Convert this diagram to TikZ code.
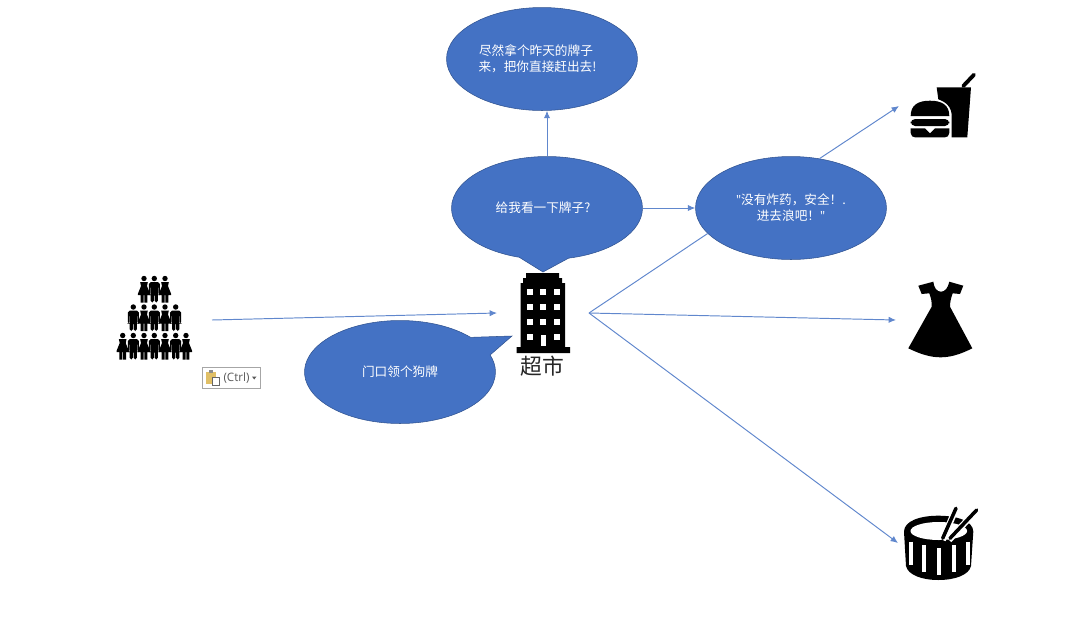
\documentclass[tikz,border=0pt]{standalone}
\usepackage{fontspec}
\setmainfont{Noto Sans CJK SC}
\newfontfamily\btnfont{Open Sans}
\usetikzlibrary{arrows.meta,shapes.geometric,shapes.callouts}
\definecolor{bubblefill}{HTML}{4472C4}
\definecolor{bubbleline}{HTML}{2F528F}
\newcommand{\bubbleline}[2]{\makebox[0pt]{#2\hspace*{#1}}}
\tikzset{
	>={Latex[length=4.2pt,width=3.6pt]},
	bubble/.style={ellipse, draw=bubbleline, line width=.3pt, fill=bubblefill, text=white,
		minimum width=3.82cm, minimum height=2.06cm, inner sep=0pt, align=center,
		font=\fontsize{7.2pt}{9.2pt}\selectfont},
	talkbubble/.style={bubble, shape=ellipse callout},
	link/.style={draw=bubblefill!85!white, line width=.55pt, ->},
	linknoarrow/.style={draw=bubblefill!85!white, line width=.55pt},
	solid black/.style={fill=black, draw=none},
	manfig/.pic={
		\fill (0,2.5) circle (2.7);
		\fill[rounded corners=1pt] (-5.5,6.2) -- (5.5,6.2) -- (5.5,19) -- (4.1,19) -- (4.1,10) -- (3.6,10) -- (3.6,26.5) -- (.4,26.5)
			-- (.4,18) -- (-.4,18) -- (-.4,26.5) -- (-3.6,26.5) -- (-3.6,10) -- (-4.1,10) -- (-4.1,19) -- (-5.5,19) -- cycle;
	},
	womanfig/.pic={
		\fill (0,2.5) circle (2.7);
		\fill (-3.8,6.2) -- (3.8,6.2) -- (3,10) -- (6.2,18) -- (6.2,19) -- (3.4,19) -- (3.4,26.5) -- (.4,26.5) -- (.4,19)
			-- (-.4,19) -- (-.4,26.5) -- (-3.4,26.5) -- (-3.4,19) -- (-6.2,19) -- (-6.2,18) -- (-3,10) -- cycle;
	},
}
\begin{document}
\begin{tikzpicture}[x=.02cm, y=-.02cm]
	\useasboundingbox (0,0) rectangle (1080,633);
	% crowd
	\foreach \x in {122.7,144,165,186} \pic at (\x,333) {womanfig};
	\foreach \x in {133.3,154.3,175.7} \pic at (\x,333) {manfig};
	\foreach \x in {144,165} \pic at (\x,304.5) {womanfig};
	\foreach \x in {133.3,154.3,175.7} \pic at (\x,304.5) {manfig};
	\foreach \x in {144,165} \pic at (\x,276) {womanfig};
	\pic at (154.3,276) {manfig};
	% paste button
	\node[draw=black!35, fill=white, line width=.4pt, minimum width=1.16cm, minimum height=.42cm, inner sep=0pt] (pastebox) at (231,377.5) {};
	\node[text=black!65, inner sep=0pt, font=\btnfont\fontsize{6.6pt}{7pt}\selectfont] (pastetext) at (236.5,378) {(Ctrl)};
	\fill[orange!55!yellow!80!black!60] (206,372) rectangle (216,384);
	\fill[black!45] (209,370) rectangle (213,373);
	\draw[black!60, fill=white, line width=.4pt] (212,377) rectangle (219.5,385);
	\fill[black!65] (252,376.5) -- (256.5,376.5) -- (254.2,379.5) -- cycle;
	% shop
	\fill[solid black] (526,273) -- (559,273) -- (559,278) -- (562,278) -- (562,283) -- (565,283) -- (565,347) -- (570,347) -- (570,353)
		-- (516.7,353) -- (516.7,347) -- (520.7,347) -- (520.7,283) -- (523,283) -- (523,278) -- (526,278) -- cycle;
	\foreach \y in {292.3,307.3,322.3}
		\foreach \x in {530,543.3,556.7}
			\fill[white] (\x-3,\y-3) rectangle (\x+3,\y+3);
	\foreach \x in {530,556.7}
		\fill[white] (\x-3,334.3) rectangle (\x+3,340.3);
	\fill[white] (540.5,335) rectangle (546,346);
	\node[inner sep=0pt, text=black!85, font=\fontsize{12.4pt}{14pt}\selectfont] (shoplabel) at (542,366) {超市};
	% burger and drink
	\fill (936.7,87.3) -- (971,87.3) -- (967.3,137.3) -- (951.7,137.3) -- (951.7,116)
		.. controls (951.7,107) and (946,102) .. (938.3,99.3) -- cycle;
	\draw[line width=2.2pt, line cap=round] (963.3,86) -- (974,74.7);
	\fill (910.7,116) .. controls (910.7,105) and (918,100.7) .. (930,100.7)
		.. controls (942,100.7) and (949.3,105) .. (949.3,116) -- cycle;
	\fill[rounded corners=2.5pt] (910.7,119) rectangle (949.3,126);
	\fill (910.7,128.3) -- (925,128.3) -- (930,133.3) -- (935,128.3) -- (949.3,128.3) -- (949.3,133)
		.. controls (949.3,136) and (947,137.3) .. (945,137.3) -- (915,137.3)
		.. controls (913,137.3) and (910.7,136) .. (910.7,133) -- cycle;
	% dress
	\fill (933.3,281.7) -- (918.3,285.7) -- (921.7,294) -- (929.3,293.3) .. controls (931,298) and (932,302) .. (931.7,306.7)
		-- (908.3,348.3) .. controls (920,354) and (930,357.3) .. (940.7,357.3) .. controls (951,357.3) and (961,354) .. (972.3,348.3)
		-- (950,306.7) .. controls (950,302) and (951,298) .. (952.7,293.3) -- (960,294) -- (963.3,285.7) -- (949.3,281.7)
		.. controls (948,288) and (945,291.7) .. (941,291.7) .. controls (937,291.7) and (934,288) .. (933.3,281.7) -- cycle;
	% drum
	\fill (904,531.7) .. controls (904,521) and (920,515.7) .. (938.3,515.7) .. controls (957,515.7) and (973.3,521) .. (973.3,531.7)
		-- (971,566) .. controls (969,575) and (955,580) .. (938.3,580) .. controls (922,580) and (908,575) .. (906,566) -- cycle;
	\fill[white] (938.8,531) ellipse (28.3 and 9);
	\foreach \x/\ya/\yb in {911/541.7/565,924/545/572,939/548/575,954/545/572,968/541.7/565}
		\draw[white, line width=2pt] (\x,\ya) -- (\x,\yb);
	\draw[white, line width=3.6pt] (942.7,540) -- (956,508.3);
	\draw[white, line width=3.6pt] (949,540) -- (976.7,510);
	\draw[line width=2pt, line cap=round] (942.7,538.3) -- (956,508.3);
	\draw[line width=2pt, line cap=round] (950,538.3) -- (976.7,510);
	% speech bubbles
	\node[bubble] (warnbubble) at (542,59) {\bubbleline{.24cm}{尽然拿个昨天的牌子}\\\bubbleline{.18cm}{来，把你直接赶出去!}};
	\node[talkbubble, callout absolute pointer={(543,272)}, callout pointer arc=30] (askbubble) at (547,208) {\bubbleline{.16cm}{给我看一下牌子?}};
	\node[bubble] (safebubble) at (791,208) {{\btnfont"}没有炸药，安全！.\\进去浪吧！{\btnfont"}};
	\node[talkbubble, callout absolute pointer={(512,336)}, callout pointer arc=23] (tagbubble) at (400,372) {门口领个狗牌};
	% connector ends
	\coordinate (crowdout) at (212,320);
	\coordinate (shopin) at (497,313);
	\coordinate (shopout) at (589,313);
	\coordinate (burgerin) at (899,106);
	\coordinate (dressin) at (896,320);
	\coordinate (drumin) at (898,543);
	\draw[link] (crowdout) -- (shopin);
	\draw[link] (askbubble.north) -- (warnbubble.south -| askbubble.north);
	\draw[link] (askbubble) -- (safebubble);
	\draw[link] (safebubble.60) -- (burgerin);
	\draw[linknoarrow] (shopout) -- (safebubble.197);
	\draw[link] (shopout) -- (dressin);
	\draw[link] (shopout) -- (drumin);
\end{tikzpicture}
\end{document}
